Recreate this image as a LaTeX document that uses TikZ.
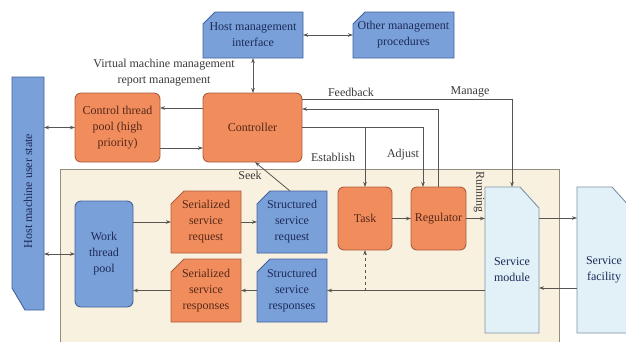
\documentclass[tikz,border=0pt]{standalone}
\usepackage{fontspec}
\setmainfont{Liberation Serif}
\newfontfamily\diaface{Liberation Serif}
\usetikzlibrary{arrows.meta}

\definecolor{orfill}{RGB}{241,140,92}
\definecolor{ordraw}{RGB}{170,95,65}
\definecolor{ortext}{RGB}{85,40,25}
\definecolor{blfill}{RGB}{122,160,218}
\definecolor{bldraw}{RGB}{68,98,158}
\definecolor{bltext}{RGB}{28,42,88}
\definecolor{svfill}{RGB}{226,241,248}
\definecolor{svdraw}{RGB}{125,145,165}
\definecolor{bgfill}{RGB}{249,241,224}
\definecolor{bgdraw}{RGB}{150,140,125}
\definecolor{wire}{RGB}{88,84,80}
\definecolor{lbl}{RGB}{60,58,56}

\newcommand\diafont{\diaface\fontsize{12}{16}\selectfont}

\pgfdeclarelayer{bottom}
\pgfdeclarelayer{shapes}
\pgfsetlayers{bottom,shapes,main}

% outline of a box with its top-left corner cut off
\newcommand\cutNW[3]{%
  \begin{pgfonlayer}{shapes}
    \path[#2] ([yshift=-#3]#1.north west) -- ([xshift=#3]#1.north west)
      -- (#1.north east) -- (#1.south east) -- (#1.south west) -- cycle;
  \end{pgfonlayer}}
% outline of a box with its top-right corner cut off
\newcommand\cutNE[2]{%
  \begin{pgfonlayer}{shapes}
    \path[#2] (#1.north west) -- ([xshift=-19pt]#1.north east)
      -- ([yshift=-21pt]#1.north east) -- (#1.south east) -- (#1.south west) -- cycle;
  \end{pgfonlayer}}

\tikzset{
  box/.style={rectangle, outer sep=0pt, inner sep=2pt, align=center, font=\diafont},
  orbox/.style={box, rounded corners=6pt, draw=ordraw, fill=orfill, line width=0.9pt, text=ortext},
  blbox/.style={box, rounded corners=6pt, draw=bldraw, fill=blfill, line width=0.9pt, text=bltext},
  bltxt/.style={box, text=bltext},
  ortxt/.style={box, text=ortext},
  blshape/.style={draw=bldraw, fill=blfill, line width=0.9pt},
  orshape/.style={draw=ordraw, fill=orfill, line width=0.9pt},
  svshape/.style={draw=svdraw, fill=svfill, line width=0.9pt},
  wire/.style={draw=wire, line width=0.8pt},
  arr/.style={wire, -{Stealth[length=5pt,width=3.5pt]}},
  darr/.style={wire, {Stealth[length=5pt,width=3.5pt]}-{Stealth[length=5pt,width=3.5pt]}},
  lab/.style={text=lbl, font=\diafont, inner sep=1pt},
}

\begin{document}
\begin{tikzpicture}[x=1pt,y=-1pt]
\useasboundingbox (0,0) rectangle (626,341);

% shaded working area
\begin{pgfonlayer}{bottom}
  \fill[white] (0,0) rectangle (626,341);
  \path[fill=bgfill, draw=bgdraw, line width=0.9pt] (60,169) rectangle (559,350);
\end{pgfonlayer}

% management side
\node[bltxt, minimum width=100pt, minimum height=46pt] (hmi) at (253,35) {Host management\\interface};
\cutNW{hmi}{blshape}{12pt}
\node[bltxt, minimum width=101pt, minimum height=46pt] (omp) at (403.5,35) {Other management\\procedures};
\cutNW{omp}{blshape}{12pt}

\node[bltxt, minimum width=32pt, minimum height=233pt] (hus) at (28,193.5) {};
\begin{pgfonlayer}{shapes}
  \path[blshape] (hus.north west) -- (hus.north east) -- (hus.south east)
    -- ([xshift=13pt]hus.south west) -- ([yshift=22pt]hus.south west) -- cycle;
\end{pgfonlayer}
\node[rotate=90, text=bltext, font=\diafont] at (28,191) {Host machine user state};

\node[orbox, minimum width=85pt, minimum height=69pt] (ctp) at (117.5,127.5) {Control thread\\pool (high\\priority)};
\node[orbox, minimum width=99pt, minimum height=69pt] (ctl) at (252.5,127.5) {Controller};

% service side
\node[blbox, minimum width=58pt, minimum height=106pt] (wtp) at (104,254) {Work\\thread\\pool};
\node[ortxt, minimum width=70pt, minimum height=62pt] (ssq) at (206,222) {Serialized\\service\\request};
\cutNW{ssq}{orshape}{13pt}
\node[bltxt, minimum width=70pt, minimum height=62pt] (stq) at (292,222) {Structured\\service\\request};
\cutNW{stq}{blshape}{13pt}
\node[ortxt, minimum width=70pt, minimum height=63pt] (ssp) at (206,290.5) {Serialized\\service\\responses};
\cutNW{ssp}{orshape}{13pt}
\node[bltxt, minimum width=70pt, minimum height=63pt] (stp) at (292,290.5) {Structured\\service\\responses};
\cutNW{stp}{blshape}{13pt}

\node[orbox, minimum width=54pt, minimum height=63pt] (task) at (365,218.5) {Task};
\node[orbox, minimum width=55pt, minimum height=63pt] (reg) at (438.5,218.5) {Regulator};

\node[box, minimum width=54pt, minimum height=146pt,
  label={[yshift=-10pt, align=center, font=\diafont, text=bltext]center:Service\\module}] (svc) at (512,260) {};
\cutNE{svc}{svshape}
\node[box, minimum width=54pt, minimum height=146pt,
  label={[yshift=-10pt, align=center, font=\diafont, text=bltext]center:Service\\facility}] (fac) at (604,260) {};
\cutNE{fac}{svshape}

% connectors
\draw[darr] (hmi.east) -- (omp.west);
\draw[darr] (hmi.south) -- (hmi.south |- ctl.north);
\draw[darr] (ctp.west -| hus.east) -- (ctp.west);
\draw[darr] (wtp.west -| hus.east) -- (wtp.west);
\draw[arr] (ctl.west |- 0,108) -- (ctp.east |- 0,108);
\draw[arr] (ctp.east |- 0,148) -- (ctl.west |- 0,148);

\draw[arr] (ctl.east |- 0,99) -| (svc.north);
\draw[arr] (reg.north) |- (ctl.east |- 0,109);
\draw[arr] (ctl.east |- 0,127) -| (423,0 |- reg.north);
\draw[arr] (task.north |- 0,127) -- (task.north);
\draw[arr] (290,0 |- stq.north) -- (255,0 |- ctl.south);

\draw[arr] (wtp.east |- ssq.west) -- (ssq.west);
\draw[arr] (ssq.east) -- (stq.west);
\draw[arr] (stp.west) -- (ssp.east);
\draw[arr] (ssp.west) -- (ssp.west -| wtp.east);
\draw[arr] (task.east) -- (reg.west);
\draw[arr] (reg.east) -- (reg.east -| svc.west);
\draw[arr] (svc.east |- 0,218) -- (fac.west |- 0,218);
\draw[arr] (fac.west |- 0,288) -- (svc.east |- 0,288);
\draw[arr] (svc.west |- stp.east) -- (stp.east);
\draw[arr, dashed] (task.south |- stp.east) -- (task.south);

% labels
\node[lab, align=center] at (164,73) {Virtual machine management\\report management};
\node[lab] at (351,92) {Feedback};
\node[lab] at (470,92) {Manage};
\node[lab] at (333,157) {Establish};
\node[lab] at (403,155) {Adjust};
\node[lab] at (250,175) {Seek};
\node[lab, rotate=-90] at (479,192) {Running};
\end{tikzpicture}
\end{document}
